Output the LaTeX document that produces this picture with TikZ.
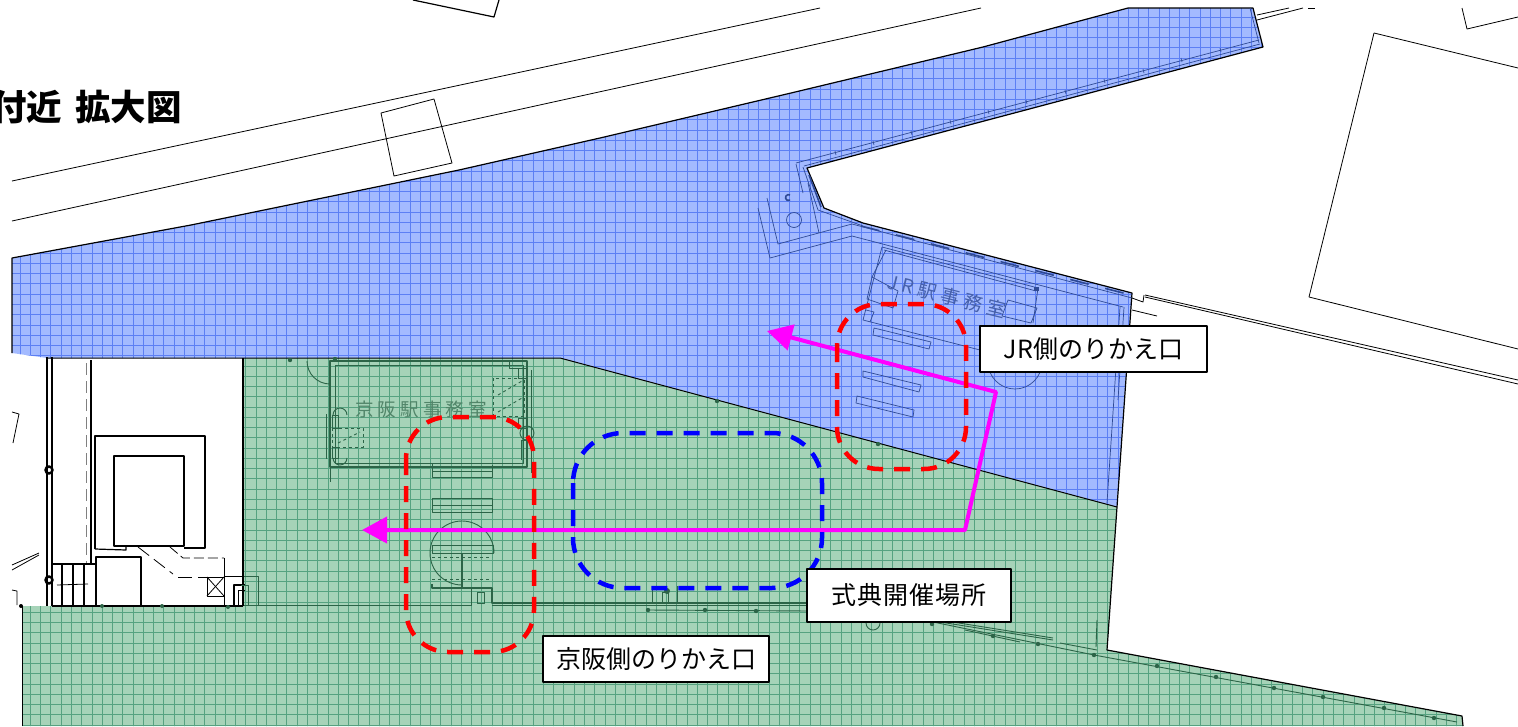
\documentclass[tikz,border=0pt]{standalone}
\usepackage{fontspec}
\setmainfont{Liberation Sans}
\newfontfamily\jpfont{Noto Sans CJK JP}
\usetikzlibrary{arrows.meta}
\definecolor{bluefill}{HTML}{A3BAFF}
\definecolor{blueline}{HTML}{5C7FF4}
\definecolor{bluewall}{HTML}{2F4A96}
\definecolor{greenfill}{HTML}{A6D3B8}
\definecolor{greenline}{HTML}{56A280}
\definecolor{greenwall}{HTML}{2C6447}
\definecolor{routecol}{HTML}{FF00FF}
\definecolor{zonered}{HTML}{FF0000}
\definecolor{zoneblue}{HTML}{0000FF}
\begin{document}
\begin{tikzpicture}[x=1pt,y=-1pt,line join=round,line cap=butt,
	plan/.style={black,line width=0.8pt},
	bluewl/.style={bluewall,line width=0.7pt},
	greenwl/.style={greenwall,line width=0.9pt},
	greenthick/.style={greenwall,line width=1.8pt},
	zone/.style={line width=4.5pt,dash pattern=on 16pt off 11pt,rounded corners=42pt},
	route/.style={routecol,line width=4pt,{Triangle[length=25pt,width=26pt]}-{Triangle[length=25pt,width=26pt]}},
	label/.style={draw=black,fill=white,line width=1.6pt,inner sep=0pt,font=\jpfont\fontsize{25}{28}\selectfont}]
	\useasboundingbox (0,0) rectangle (1518,726);
	\clip (0,0) rectangle (1518,726);
	%Vùng màu xanh dương
	\fill[bluefill] (12,258)--(191,225)--(459,170)--(600,138)--(791,93)--(983,47)--(1128,8)--(1253,8)--(1263,47)--(807,168)--(824,208)--(863,223)--(1132,293)--(1117,507)--(560,358)--(47,358)--(12,353)--cycle;
	\begin{scope}
		\clip (12,258)--(191,225)--(459,170)--(600,138)--(791,93)--(983,47)--(1128,8)--(1253,8)--(1263,47)--(807,168)--(824,208)--(863,223)--(1132,293)--(1117,507)--(560,358)--(47,358)--(12,353)--cycle;
		\draw[blueline,line width=0.7pt,xshift=9.8pt,yshift=-6.8pt,step=10.26pt] (-20,-10) grid (1300,520);
	\end{scope}
	%Vùng màu xanh lá
	\fill[greenfill] (244,358)--(560,358)--(1117,507)--(1107,650)--(1462,716)--(1463,726)--(22,726)--(22,606)--(244,606)--cycle;
	\begin{scope}
		\clip (244,358)--(560,358)--(1117,507)--(1107,650)--(1462,716)--(1463,726)--(22,726)--(22,606)--(244,606)--cycle;
		\draw[greenline,line width=0.7pt,xshift=9.8pt,yshift=-6.8pt,step=10.26pt] (-20,340) grid (1480,740);
	\end{scope}
	%Đường viền
	\draw[black,line width=1.2pt] (12,353)--(12,258)--(191,225)--(459,170)--(600,138)--(791,93)--(983,47)--(1128,8)--(1253,8)--(1263,47)--(807,168)--(824,208)--(863,223)--(1132,293)--(1117,507)--(1107,650)--(1462,716)--(1463,726);
	\draw[black,line width=1pt] (47,358)--(560,358)--(1117,507);
	\draw[plan] (22,726)--(22,606);
	%Đường và ô phía trên
	\draw[plan] (12,181)--(820,8);
	\draw[plan] (12,221)--(981,8);
	\draw[plan] (381,113)--(434,99)--(452,163)--(394,176)--cycle;
	\draw[plan,line width=1.2pt] (413,0)--(494,17)--(499,0);
	%Phía bên phải
	\draw[plan] (1374,33)--(1309,297)--(1518,349);
	\draw[plan] (1374,33)--(1518,68);
	\draw[plan] (1462,8)--(1467,29)--(1518,17);
	\draw[plan] (1257,15)--(1289,8);
	\draw[plan] (1257,20)--(1303,8);
	\draw[plan] (1308,8)--(1315,8);
	\draw[plan] (1145,295)--(1518,380);
	\draw[plan] (1145,297)--(1518,384);
	\draw[plan] (1132,298)--(1143,302)--(1144,295);
	\draw[plan] (1132,310)--(1157,316);
	%Tòa nhà bên trái
	\draw[plan,line width=1.2pt] (47,357)--(47,606);
	\draw[plan,line width=1.2pt] (52,357)--(52,606);
	\draw[plan,line width=1.2pt] (91,360)--(91,564);
	\draw[plan,gray,dash pattern=on 12pt off 6pt,line width=1pt] (86,363)--(86,564);
	\draw[plan,line width=1.2pt] (243,358)--(243,606);
	\draw[plan,line width=1.2pt] (95,549)--(95,436)--(205,436)--(205,548)--(184,548);
	\draw[plan,line width=1.2pt] (95,549)--(126,550)--(126,546);
	\draw[plan,line width=1.2pt] (114,546)--(114,456)--(184,456)--(184,546)--cycle;
	\draw[plan,line width=1.2pt] (52,564)--(95,564);
	\foreach \x in {62,73,84} \draw[plan,line width=1.2pt] (\x,564)--(\x,606);
	\draw[plan] (57,585)--(88,584);
	\draw[plan,line width=1.2pt] (96,606)--(96,557)--(141,557)--(141,606);
	\draw[black,line width=2pt] (52,606)--(243,606);
	\draw[plan,dash pattern=on 14pt off 6pt] (138,547)--(173,574);
	\draw[plan,dash pattern=on 14pt off 6pt] (178,577)--(207,577);
	\draw[plan,dash pattern=on 10pt off 4pt] (170,547)--(183,558)--(224,558);
	\draw[plan] (224,558)--(224,606);
	\draw[plan] (207,577)--(224,577)--(224,596)--(207,596)--cycle;
	\draw[plan] (207,577)--(224,596);
	\draw[plan] (224,577)--(207,596);
	\draw[plan] (224,576)--(243,576);
	\draw[plan,line width=1.2pt] (234,606)--(234,585)--(245,585);
	\draw[plan] (238,606)--(238,590)--(245,590);
	\draw[plan] (12,412)--(19,414)--(13,443);
	\draw[plan] (12,565)--(39,553);
	\draw[plan] (12,570)--(39,555);
	\draw[plan] (12,590)--(17,591)--(17,605);
	\foreach \x/\y in {49/470,49/580} \draw[black,line width=2.5pt] (\x,\y) circle (3.5pt);
	\foreach \x/\y in {21/606} \fill[black] (\x,\y) circle (2pt);
	\foreach \x/\y in {102/606,162/606,228/607} \fill[greenwall] (\x,\y) circle (2pt);
	\draw[greenwl] (244,576)--(258,576)--(258,605)--(249,605);
	\draw[greenwl] (248,606)--(248,585)--(241,585);
	%Phòng Keihan
	\draw[greenthick] (330,361)--(527,361)--(527,467)--(330,467)--cycle;
	\draw[greenwl] (335,365)--(523,365)--(523,463)--(335,463)--cycle;
	\draw[greenwl] (330,361) ++(-23,0) arc (180:270:23pt);
	\draw[greenwl] (326,414)--(326,459);
	\draw[greenwl] (330,467)--(330,482);
	\draw[greenwl] (509,362)--(509,368)--(527,368);
	\draw[greenwl] (518,368)--(518,378)--(527,378);
	\draw[greenwl,dashed] (493,378) rectangle (524,416);
	\draw[greenwl,dashed] (498,395)--(522,381);
	\draw[greenwl,dashed] (498,412)--(522,398);
	\draw[greenwl,dashed] (332,428) rectangle (363,447);
	\draw[greenwl,dashed] (338,443)--(360,432);
	\draw[greenwl] (332,415) rectangle (338,428);
	\draw[greenwl] (332,447) rectangle (338,458);
	\draw[greenwl] (333,415) arc (180:0:7pt);
	\draw[greenwl] (333,458) arc (180:360:7pt);
	\draw[greenwl] (518,418) rectangle (527,428);
	\draw[greenwl] (527,440)--(521,440)--(521,460);
	\draw[greenwl] (527,433) circle (7pt);
	\draw[greenwl] (531,370)--(531,473);
	\node (keihanroom) at (421,409) {\jpfont\fontsize{18.5}{20}\selectfont\addfontfeature{LetterSpace=22}\color{greenwall!70!greenfill}京阪駅事務室};
	%Cổng soát vé Keihan
	\draw[greenwl] (432,463)--(432,477)--(492,477)--(492,465);
	\draw[greenwl] (432,471)--(492,471);
	\draw[greenwl] (432,498) rectangle (492,512);
	\draw[greenwl] (432,505)--(492,505);
	\draw[greenwl] (494,553) arc (0:270:32pt);
	\draw[greenwl] (432,545) rectangle (493,553);
	\draw[greenwl,dashed] (432,557)--(492,557);
	\draw[greenthick] (462,553)--(462,587);
	\draw[greenwl,dashed] (432,579)--(492,579);
	\draw[greenthick] (432,584)--(432,588)--(492,588)--(492,603)--(810,603);
	\draw[greenwl] (471,587)--(471,605)--(244,605);
	\draw[greenwl] (492,605)--(810,605);
	\draw[greenwl] (477,592) rectangle (484,603);
	%Hàng cột phía dưới
	\draw[greenwl] (652,586)--(652,603);
	\draw[greenwl] (677,586)--(677,603);
	\draw[greenwl] (662,592) rectangle (668,603);
	\fill[greenwall] (667,591) circle (3pt);
	\draw[greenwl] (648,610)--(810,611);
	\draw[greenwl] (873,623) circle (7pt);
	\draw[greenwl] (933,622)--(1094,655)--(1457,722);
	\draw[greenwl] (940,620)--(1053,638);
	\draw[greenwl] (940,622)--(1053,640);
	\draw[greenwl] (965,630)--(1020,642);
	\draw[greenwl] (1097,620)--(1096,647);
	\draw[greenwl] (1060,643)--(1097,650);
	\foreach \x/\y in {648/610,705/610,756/611,932/624,993/636,1038/644,1094/655,1157/666,1216/677,1274/688,1323/697,1384/708,1434/718,290/360,335/359,717/401,878/444} \fill[greenwall] (\x,\y) circle (2.2pt);
	%Phòng JR
	\draw[bluewl] (882,247)--(1038,288)--(1033,323);
	\draw[bluewl] (884,250)--(1036,291);
	\draw[bluewl] (882,247)--(863,320)--(980,350);
	\draw[bluewl] (886,250)--(872,277);
	\draw[bluewl] (872,277)--(898,291)--(893,308)--(867,299)--cycle;
	\draw[bluewl] (1008,300)--(1037,308)--(1031,323)--(1002,316)--cycle;
	\draw[bluewl] (866,310)--(874,312)--(870,322);
	\fill[bluewall] (1034,287) rectangle (1039,291);
	\draw[bluewl] (852,224)--(1132,298);
	\draw[bluewl] (767,198)--(778,244)--(852,224);
	\draw[bluewl] (758,208)--(770,258)--(852,236)--(1123,307);
	\draw[bluewl] (808,183)--(819,233);
	\draw[bluewl] (796,164)--(803,193);
	\draw[bluewl] (803,167)--(818,210)--(863,226);
	\draw[bluewl] (796,163)--(1259,40);
	\draw[bluewl] (804,166)--(1260,44);
	\draw[bluewl] (1250,8)--(1259,43);
	\draw[bluewall,line width=1.6pt,dash pattern=on 19pt off 17pt] (861,226)--(1131,295);
	\draw[bluewall,line width=1.6pt] (809,175)--(821,207);
	\foreach \x/\y in {835/151,873/141,911/131,950/120,988/110,1026/100,1065/90,1104/79,1143/69,1181/58,1220/48} \draw[bluewl] (\x,\y)--(\x+1,\y+4);
	\draw[bluewl] (794,220) circle (7.5pt);
	\draw[bluewall,line width=1.6pt] (790,195) arc (60:300:3pt);
	\draw[bluewl] (874,328)--(931,342)--(929,349)--(873,335)--cycle;
	\draw[bluewl] (863,371)--(921,385)--(919,392)--(863,377)--cycle;
	\draw[bluewl] (857,396)--(914,410)--(913,417)--(856,403)--cycle;
	\draw[bluewl] (1015,362) circle (27pt);
	\draw[bluewl] (1120,307)--(1107,503);
	\draw[bluewl] (1124,307)--(1118,400);
	\node (jrroom) at (947,296) [rotate=-14] {\jpfont\fontsize{19}{20}\selectfont\addfontfeature{LetterSpace=24}\color{bluewall!80!bluefill}\textit{JR}駅事務室};
	%Đường đi
	\coordinate (jrend) at (767,331);
	\coordinate (turna) at (996,392);
	\coordinate (turnb) at (965,530);
	\coordinate (keihanend) at (362,530);
	\draw[route] (jrend)--(turna)--(turnb)--(keihanend);
	%Khu vực nét đứt
	\draw[zone,zonered] (406,417) rectangle (534,652);
	\draw[zone,zonered] (837,304) rectangle (966,469);
	\draw[zone,zoneblue,rounded corners=50pt] (573,433) rectangle (822,588);
	%Nhãn
	\node[label,minimum width=227pt,minimum height=46pt] (jrlabel) at (1093.5,349) {JR側のりかえ口};
	\node[label,minimum width=204pt,minimum height=53pt] (ceremony) at (909,595.5) {\addfontfeature{LetterSpace=4}式典開催場所};
	\node[label,minimum width=226pt,minimum height=46pt] (keihanlabel) at (656,659) {京阪側のりかえ口};
	\node[anchor=east,inner sep=0pt,font=\jpfont\bfseries\fontsize{35.5}{38}\selectfont] (title) at (182,107) {付近 \kern5pt 拡大図};
\end{tikzpicture}
\end{document}
